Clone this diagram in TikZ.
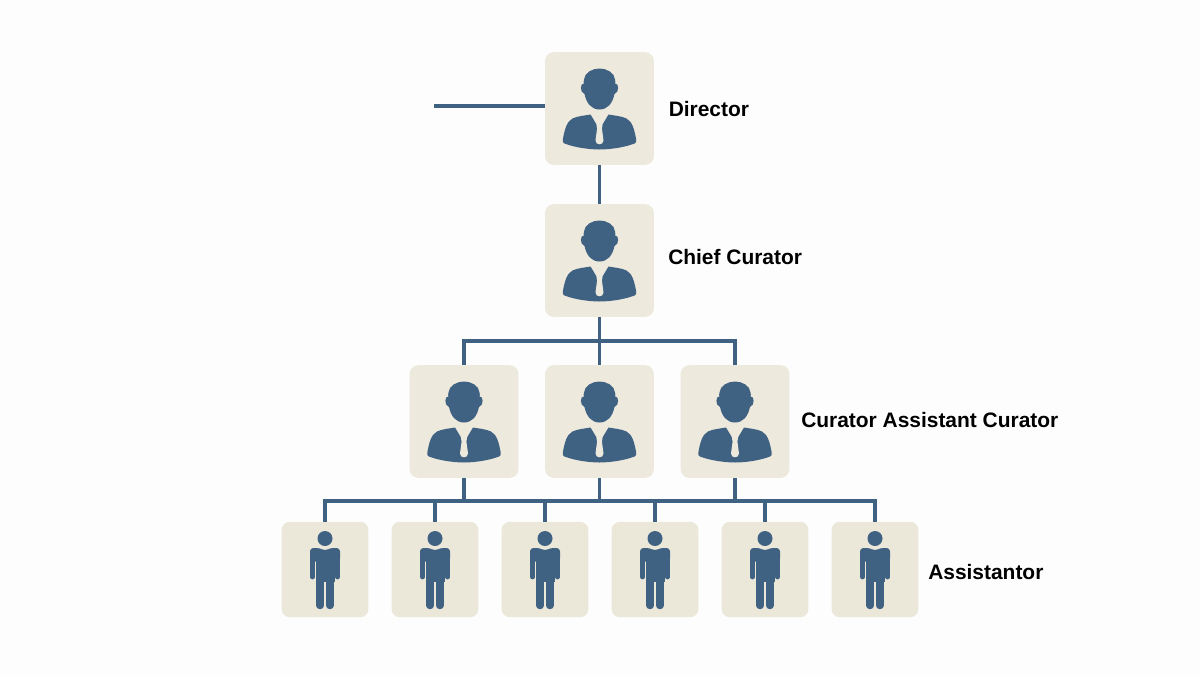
\documentclass[tikz,border=0pt]{standalone}
\usepackage{fontspec}
\setmainfont{Liberation Sans}
\definecolor{slate}{HTML}{3F6283}
\definecolor{cream}{HTML}{EDE9DD}
\definecolor{creamb}{HTML}{EBE8DA}
\definecolor{paper}{HTML}{FDFDFD}
\tikzset{
  bigbox/.style={fill=cream,draw=none,rounded corners=6.5pt,minimum width=81.5pt,minimum height=84.5pt,inner sep=0pt},
  smallbox/.style={fill=creamb,draw=none,rounded corners=6pt,minimum width=65pt,minimum height=71.5pt,inner sep=0pt},
  link/.style={draw=slate,line width=2.4pt},
  rolelabel/.style={anchor=base west,inner sep=0pt,font=\fontsize{15.7}{18}\selectfont\bfseries,text=black},
  bust/.pic={
    \fill[slate] (-15.5,-29) .. controls (-15,-36) and (-7,-40) .. (0,-40) .. controls (7,-40) and (15,-36) .. (15.5,-29)
      .. controls (16,-27) and (16,-26) .. (15.5,-25) .. controls (19.5,-26) and (20,-16) .. (15,-14.5)
      .. controls (13,-5) and (8,1) .. (0,1) .. controls (-8,1) and (-13,-5) .. (-15,-14.5)
      .. controls (-20,-16) and (-19.5,-26) .. (-15.5,-25) .. controls (-16,-26) and (-16,-27) .. (-15.5,-29) -- cycle;
    \fill[slate] (-9,6) -- (-3.3,15.5) -- (3.3,15.5) -- (9,6)
      .. controls (14,7) and (22,7.5) .. (27,10) .. controls (33,13) and (35,22) .. (36.5,30)
      .. controls (37.5,33) and (36.5,34.5) .. (35,35) .. controls (25,39) and (10,41) .. (0,41)
      .. controls (-10,41) and (-25,39) .. (-35,35) .. controls (-36.5,34.5) and (-37.5,33) .. (-36.5,30)
      .. controls (-35,22) and (-33,13) .. (-27,10) .. controls (-22,7.5) and (-14,7) .. (-9,6) -- cycle;
    \fill[cream] (-3.3,15) -- (3.3,15) -- (2.4,20) -- (4,32) .. controls (4,34.5) and (2,35.8) .. (0,35.8)
      .. controls (-2,35.8) and (-4,34.5) .. (-4,32) -- (-2.4,20) -- cycle;
  },
  figure/.pic={
    \fill[slate] (0,-31) circle [radius=7.5];
    \fill[slate,rounded corners=2.5pt] (-15,-8) -- (-15,-21.5) -- (-5,-21.5) -- (0,-18.5) -- (5,-21.5) -- (15,-21.5) -- (15,-8) -- cycle;
    \fill[slate] (-9.5,-10) rectangle (9.5,12);
    \draw[slate,line width=3.6pt,line cap=round] (-12.6,-12) -- (-12.6,7.5);
    \draw[slate,line width=3.6pt,line cap=round] (12.6,-12) -- (12.6,7.5);
    \draw[slate,line width=5.6pt,line cap=round] (-4.8,8) -- (-4.8,36);
    \draw[slate,line width=5.6pt,line cap=round] (4.8,8) -- (4.8,36);
  }
}
\begin{document}
\begin{tikzpicture}[x=0.75pt,y=-0.75pt]
\path[use as bounding box,fill=paper] (0,0) rectangle (1200,675);
% boxes
\node[bigbox] (dir) at (599.5,108.5) {};
\node[bigbox] (chief) at (599.5,260.5) {};
\node[bigbox] (m1) at (464,421.5) {};
\node[bigbox] (m2) at (599.5,421.5) {};
\node[bigbox] (m3) at (735,421.5) {};
\node[smallbox] (a1) at (325,569.5) {};
\node[smallbox] (a2) at (435,569.5) {};
\node[smallbox] (a3) at (545,569.5) {};
\node[smallbox] (a4) at (655,569.5) {};
\node[smallbox] (a5) at (765,569.5) {};
\node[smallbox] (a6) at (875,569.5) {};
% named junctions
\coordinate (free) at (434,106);
\coordinate (busone) at (599.5,341);
\coordinate (bustwo) at (599.5,501);
% connectors
\draw[link] (free) -- (free -| dir.west);
\draw[link] (dir) -- (chief);
\draw[link] (chief.south) -- (busone);
\draw[link,line join=miter] (m1.north) -- (m1.north |- busone) -- (m3.north |- busone) -- (m3.north);
\draw[link] (busone) -- (m2.north);
\draw[link] (m1.south) -- (m1.south |- bustwo);
\draw[link] (m2.south) -- (bustwo);
\draw[link] (m3.south) -- (m3.south |- bustwo);
\draw[link,line join=miter] (a1.north) -- (a1.north |- bustwo) -- (a6.north |- bustwo) -- (a6.north);
\foreach \n in {a2,a3,a4,a5} \draw[link] (\n.north) -- (\n.north |- bustwo);
% icons
\foreach \n in {dir,chief,m1,m2,m3} \pic at (\n) {bust};
\foreach \n in {a1,a2,a3,a4,a5,a6} \pic at (\n) {figure};
% labels
\node[rolelabel] (ldir) at (668.5,116) {Director};
\node[rolelabel] (lchief) at (668,264) {Chief Curator};
\node[rolelabel] (lcur) at (801,427) {Curator Assistant Curator};
\node[rolelabel] (lass) at (928,579) {Assistantor};
\end{tikzpicture}
\end{document}
